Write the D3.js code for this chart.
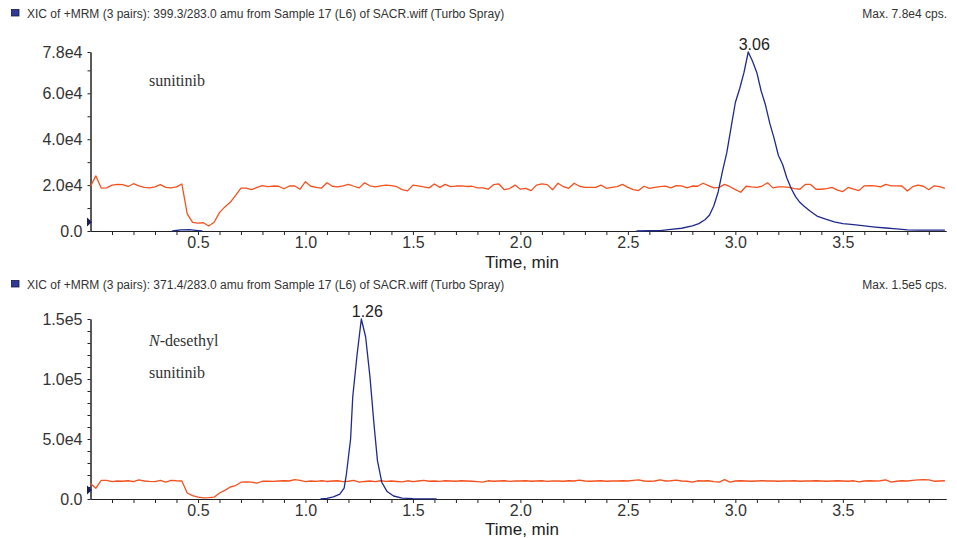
<!DOCTYPE html>
<html lang="en">
<head>
<meta charset="UTF-8">
<title>XIC of +MRM - sunitinib / N-desethyl sunitinib</title>
<script src="https://cdnjs.cloudflare.com/ajax/libs/d3/7.8.5/d3.min.js"></script>
<style>
  body { margin: 0; background: #fff; }
  svg { display: block; font-family: 'Liberation Sans', Arial, sans-serif; }
  .axis .domain, .axis line { stroke: #222; stroke-width: 1; }
  .axis text { fill: #333; font-size: 16px; font-family: 'Liberation Sans', Arial, sans-serif; }
  .header { fill: #333; font-size: 12px; }
  .analyte { fill: #333; font-size: 16px; font-family: 'Liberation Serif', 'Times New Roman', serif; }
  .peak { fill: #222; font-size: 16px; }
  .xlabel { fill: #222; font-size: 17px; }
</style>
</head>
<body>
<svg width="957" height="538"></svg>
<script>
// counts are in units of 1e4 cps, time in min
const scanStep = 0.025;

const xMajorTicks = [0.5, 1.0, 1.5, 2.0, 2.5, 3.0, 3.5];
const xMajorLabels = ['0.5', '1.0', '1.5', '2.0', '2.5', '3.0', '3.5'];
const xMinorTicks = [0.1, 0.2, 0.3, 0.4, 0.6, 0.7, 0.8, 0.9, 1.1, 1.2, 1.3, 1.4, 1.6, 1.7, 1.8, 1.9,
  2.1, 2.2, 2.3, 2.4, 2.6, 2.7, 2.8, 2.9, 3.1, 3.2, 3.3, 3.4, 3.6, 3.7, 3.8, 3.9];

const topYTicks = [0, 2, 4, 6, 7.8];
const topYLabels = ['0.0', '2.0e4', '4.0e4', '6.0e4', '7.8e4'];
const topYMinor = [1, 3, 5, 7];
const bottomYTicks = [0, 5, 10, 15];
const bottomYLabels = ['0.0', '5.0e4', '1.0e5', '1.5e5'];
const bottomYMinor = [1, 2, 3, 4, 6, 7, 8, 9, 11, 12, 13, 14];

// sunitinib panel, second trace (orange), one value per scan
const topOrange = [
  1.95, 2.40, 1.87, 1.88, 2.00, 2.03, 2.02, 1.94, 2.06, 1.97,
  1.90, 1.88, 1.92, 2.02, 1.90, 1.88, 1.92, 2.05, 0.75, 0.38,
  0.34, 0.36, 0.22, 0.38, 0.80, 1.05, 1.25, 1.55, 1.87, 1.87,
  1.80, 1.90, 1.98, 1.93, 1.96, 1.95, 1.84, 1.96, 1.96, 1.82,
  2.15, 1.95, 1.90, 1.87, 2.10, 1.95, 1.92, 1.97, 2.03, 1.95,
  1.88, 2.10, 1.97, 1.92, 1.97, 2.00, 1.98, 1.93, 1.80, 1.75,
  2.00, 1.97, 1.92, 1.88, 2.05, 1.90, 2.03, 1.93, 1.96, 1.97,
  1.94, 1.95, 1.88, 1.88, 1.82, 2.02, 2.05, 1.80, 1.85, 2.00,
  1.82, 1.86, 1.76, 2.00, 2.05, 2.02, 1.80, 2.08, 1.93, 1.86,
  2.08, 1.95, 1.90, 1.90, 1.90, 2.00, 1.86, 1.90, 1.93, 2.03,
  1.90, 1.80, 1.76, 1.95, 1.86, 1.90, 1.93, 1.96, 1.88, 1.98,
  1.97, 1.88, 1.96, 1.95, 2.08, 1.98, 1.88, 1.90, 2.03, 1.93,
  1.80, 1.69, 1.95, 1.92, 1.90, 1.96, 2.10, 1.88, 1.92, 1.92,
  1.90, 1.85, 1.82, 2.03, 2.03, 1.82, 1.82, 1.85, 1.90, 1.78,
  1.72, 1.90, 1.82, 1.76, 1.97, 1.98, 1.97, 1.92, 2.03, 1.97,
  1.97, 1.96, 1.74, 1.93, 2.00, 1.95, 1.80, 1.97, 1.93, 1.86
];

// sunitinib panel, analyte trace (blue): [time, counts]
const topBlue = [
  [0.38, 0], [0.42, 0.05], [0.46, 0.06], [0.50, 0.02], [0.52, 0]
];
const topBluePeak = [
  [2.54, 0], [2.60, 0.01], [2.65, 0.02], [2.70, 0.07], [2.75, 0.12], [2.80, 0.22],
  [2.83, 0.32], [2.86, 0.5], [2.88, 0.7], [2.90, 1.1], [2.92, 1.7], [2.94, 2.6],
  [2.96, 3.4], [2.98, 4.5], [3.00, 5.6], [3.02, 6.2], [3.04, 6.9], [3.06, 7.8],
  [3.08, 7.4], [3.10, 6.9], [3.12, 6.1], [3.14, 5.5], [3.16, 4.7], [3.18, 4.05],
  [3.20, 3.3], [3.22, 2.9], [3.24, 2.3], [3.26, 1.85], [3.28, 1.5], [3.30, 1.25],
  [3.32, 1.08], [3.35, 0.85], [3.38, 0.65], [3.42, 0.52], [3.46, 0.40], [3.50, 0.32],
  [3.55, 0.28], [3.60, 0.22], [3.65, 0.17], [3.70, 0.13], [3.75, 0.09], [3.80, 0.05],
  [3.85, 0.04], [3.975, 0.04]
];

// N-desethyl sunitinib panel
const bottomOrange = [
  1.30, 0.90, 1.55, 1.55, 1.45, 1.50, 1.48, 1.52, 1.44, 1.60,
  1.50, 1.47, 1.45, 1.55, 1.40, 1.55, 1.52, 1.50, 0.50, 0.28,
  0.15, 0.10, 0.12, 0.15, 0.50, 0.72, 1.00, 1.12, 1.40, 1.42,
  1.40, 1.32, 1.48, 1.48, 1.47, 1.50, 1.52, 1.50, 1.62, 1.55,
  1.45, 1.50, 1.47, 1.52, 1.46, 1.50, 1.52, 1.45, 1.48, 1.55,
  1.40, 1.46, 1.50, 1.44, 1.52, 1.47, 1.50, 1.46, 1.42, 1.52,
  1.45, 1.50, 1.55, 1.48, 1.50, 1.47, 1.52, 1.50, 1.48, 1.52,
  1.50, 1.48, 1.45, 1.40, 1.52, 1.48, 1.50, 1.52, 1.47, 1.50,
  1.50, 1.52, 1.48, 1.50, 1.52, 1.47, 1.50, 1.50, 1.48, 1.52,
  1.50, 1.58, 1.50, 1.48, 1.50, 1.52, 1.48, 1.50, 1.50, 1.52,
  1.50, 1.55, 1.60, 1.50, 1.48, 1.50, 1.60, 1.50, 1.52, 1.58,
  1.50, 1.48, 1.40, 1.52, 1.50, 1.52, 1.45, 1.40, 1.62, 1.40,
  1.50, 1.52, 1.50, 1.48, 1.50, 1.52, 1.50, 1.50, 1.48, 1.50,
  1.50, 1.52, 1.48, 1.50, 1.50, 1.52, 1.50, 1.48, 1.50, 1.52,
  1.50, 1.48, 1.52, 1.42, 1.50, 1.52, 1.50, 1.52, 1.60, 1.40,
  1.48, 1.52, 1.50, 1.55, 1.60, 1.62, 1.60, 1.48, 1.50, 1.52
];
const bottomBluePeak = [
  [1.07, 0], [1.10, 0.05], [1.13, 0.18], [1.16, 0.40], [1.18, 0.90], [1.19, 2.0],
  [1.21, 5.0], [1.22, 8.5], [1.24, 12.0], [1.26, 15.0], [1.28, 13.5], [1.30, 10.2],
  [1.32, 6.0], [1.335, 3.2], [1.355, 1.4], [1.38, 0.62], [1.41, 0.25], [1.45, 0.08],
  [1.50, 0.03], [1.60, 0.01], [1.61, 0]
];

const panels = [
  {
    header: 'XIC of +MRM (3 pairs): 399.3/283.0 amu from Sample 17 (L6) of SACR.wiff (Turbo Spray)',
    maxText: 'Max. 7.8e4 cps.',
    headerY: 18,
    top: 52, bottom: 231, yMax: 7.8,
    yTicks: topYTicks, yLabels: topYLabels, yMinor: topYMinor,
    orange: topOrange, blue: [topBlue, topBluePeak],
    peak: { t: 3.06, v: 7.8, label: '3.06' },
    marker: 0.39,
    titleY: 268,
    names: [{ text: 'sunitinib', y: 86 }]
  },
  {
    header: 'XIC of +MRM (3 pairs): 371.4/283.0 amu from Sample 17 (L6) of SACR.wiff (Turbo Spray)',
    maxText: 'Max. 1.5e5 cps.',
    headerY: 289,
    top: 319, bottom: 499, yMax: 15,
    yTicks: bottomYTicks, yLabels: bottomYLabels, yMinor: bottomYMinor,
    orange: bottomOrange, blue: [bottomBluePeak],
    peak: { t: 1.26, v: 15, label: '1.26' },
    marker: 0.75,
    titleY: 534.5,
    names: [{ text: 'N-desethyl', y: 346, italicN: true }, { text: 'sunitinib', y: 378 }]
  }
];

const svg = d3.select('svg');
const blueColor = '#1f2a8f';
const orangeColor = '#f4511e';

const x = d3.scaleLinear().domain([0, 3.98]).range([90.5, 946]);

panels.forEach((p) => {
  const y = d3.scaleLinear().domain([0, p.yMax]).range([p.bottom, p.top]);
  const g = svg.append('g');

  // header line
  g.append('rect')
    .attr('x', 11.5).attr('y', p.headerY - 8.5)
    .attr('width', 7.5).attr('height', 6.5)
    .attr('fill', '#2d3a99').attr('stroke', '#1a1a40').attr('stroke-width', 0.8);
  g.append('text').attr('class', 'header')
    .attr('x', 27).attr('y', p.headerY)
    .text(p.header);
  g.append('text').attr('class', 'header')
    .attr('x', 947).attr('y', p.headerY)
    .attr('text-anchor', 'end')
    .text(p.maxText);

  // x axis: minor then labelled ticks
  g.append('g').attr('class', 'axis')
    .attr('transform', `translate(0, ${p.bottom})`)
    .call(d3.axisBottom(x).tickValues(xMinorTicks).tickSize(4).tickSizeOuter(0).tickFormat(''));
  g.append('g').attr('class', 'axis')
    .attr('transform', `translate(0, ${p.bottom})`)
    .call(d3.axisBottom(x).tickValues(xMajorTicks).tickSize(4).tickSizeOuter(0).tickPadding(2)
      .tickFormat((d, i) => xMajorLabels[i]));

  // y axis
  g.append('g').attr('class', 'axis')
    .attr('transform', `translate(${x.range()[0]}, 0)`)
    .call(d3.axisLeft(y).tickValues(p.yMinor).tickSize(3).tickSizeOuter(0).tickFormat(''));
  g.append('g').attr('class', 'axis')
    .attr('transform', `translate(${x.range()[0]}, 0)`)
    .call(d3.axisLeft(y).tickValues(p.yTicks).tickSize(3).tickSizeOuter(0).tickPadding(5)
      .tickFormat((d, i) => p.yLabels[i]));

  // traces
  const line = d3.line().x((d) => x(d[0])).y((d) => y(d[1]));
  const orangePts = p.orange.map((v, i) => [i * scanStep, v]);
  g.append('path')
    .datum(orangePts)
    .attr('d', line)
    .attr('fill', 'none')
    .attr('stroke', orangeColor)
    .attr('stroke-width', 1.3)
    .attr('stroke-linejoin', 'round');
  p.blue.forEach((seg) => {
    g.append('path')
      .datum(seg)
      .attr('d', line)
      .attr('fill', 'none')
      .attr('stroke', blueColor)
      .attr('stroke-width', 1.3)
      .attr('stroke-linejoin', 'round');
  });

  // threshold marker on y axis
  const my = y(p.marker);
  g.append('path')
    .attr('d', `M${x.range()[0] - 3.5},${my - 4.5} L${x.range()[0] + 1.5},${my} L${x.range()[0] - 3.5},${my + 4.5} Z`)
    .attr('fill', '#1a1f5a');

  // peak label
  g.append('text').attr('class', 'peak')
    .attr('x', x(p.peak.t) + 6)
    .attr('y', y(p.peak.v) - 2.5)
    .attr('text-anchor', 'middle')
    .text(p.peak.label);

  // analyte names
  p.names.forEach((n) => {
    const t = g.append('text').attr('class', 'analyte')
      .attr('x', 149).attr('y', n.y);
    if (n.italicN) {
      t.append('tspan').attr('font-style', 'italic').text(n.text[0]);
      t.append('tspan').text(n.text.slice(1));
    } else {
      t.text(n.text);
    }
  });

  // x axis title
  g.append('text').attr('class', 'xlabel')
    .attr('x', 522).attr('y', p.titleY)
    .attr('text-anchor', 'middle')
    .text('Time, min');
});
</script>
</body>
</html>
